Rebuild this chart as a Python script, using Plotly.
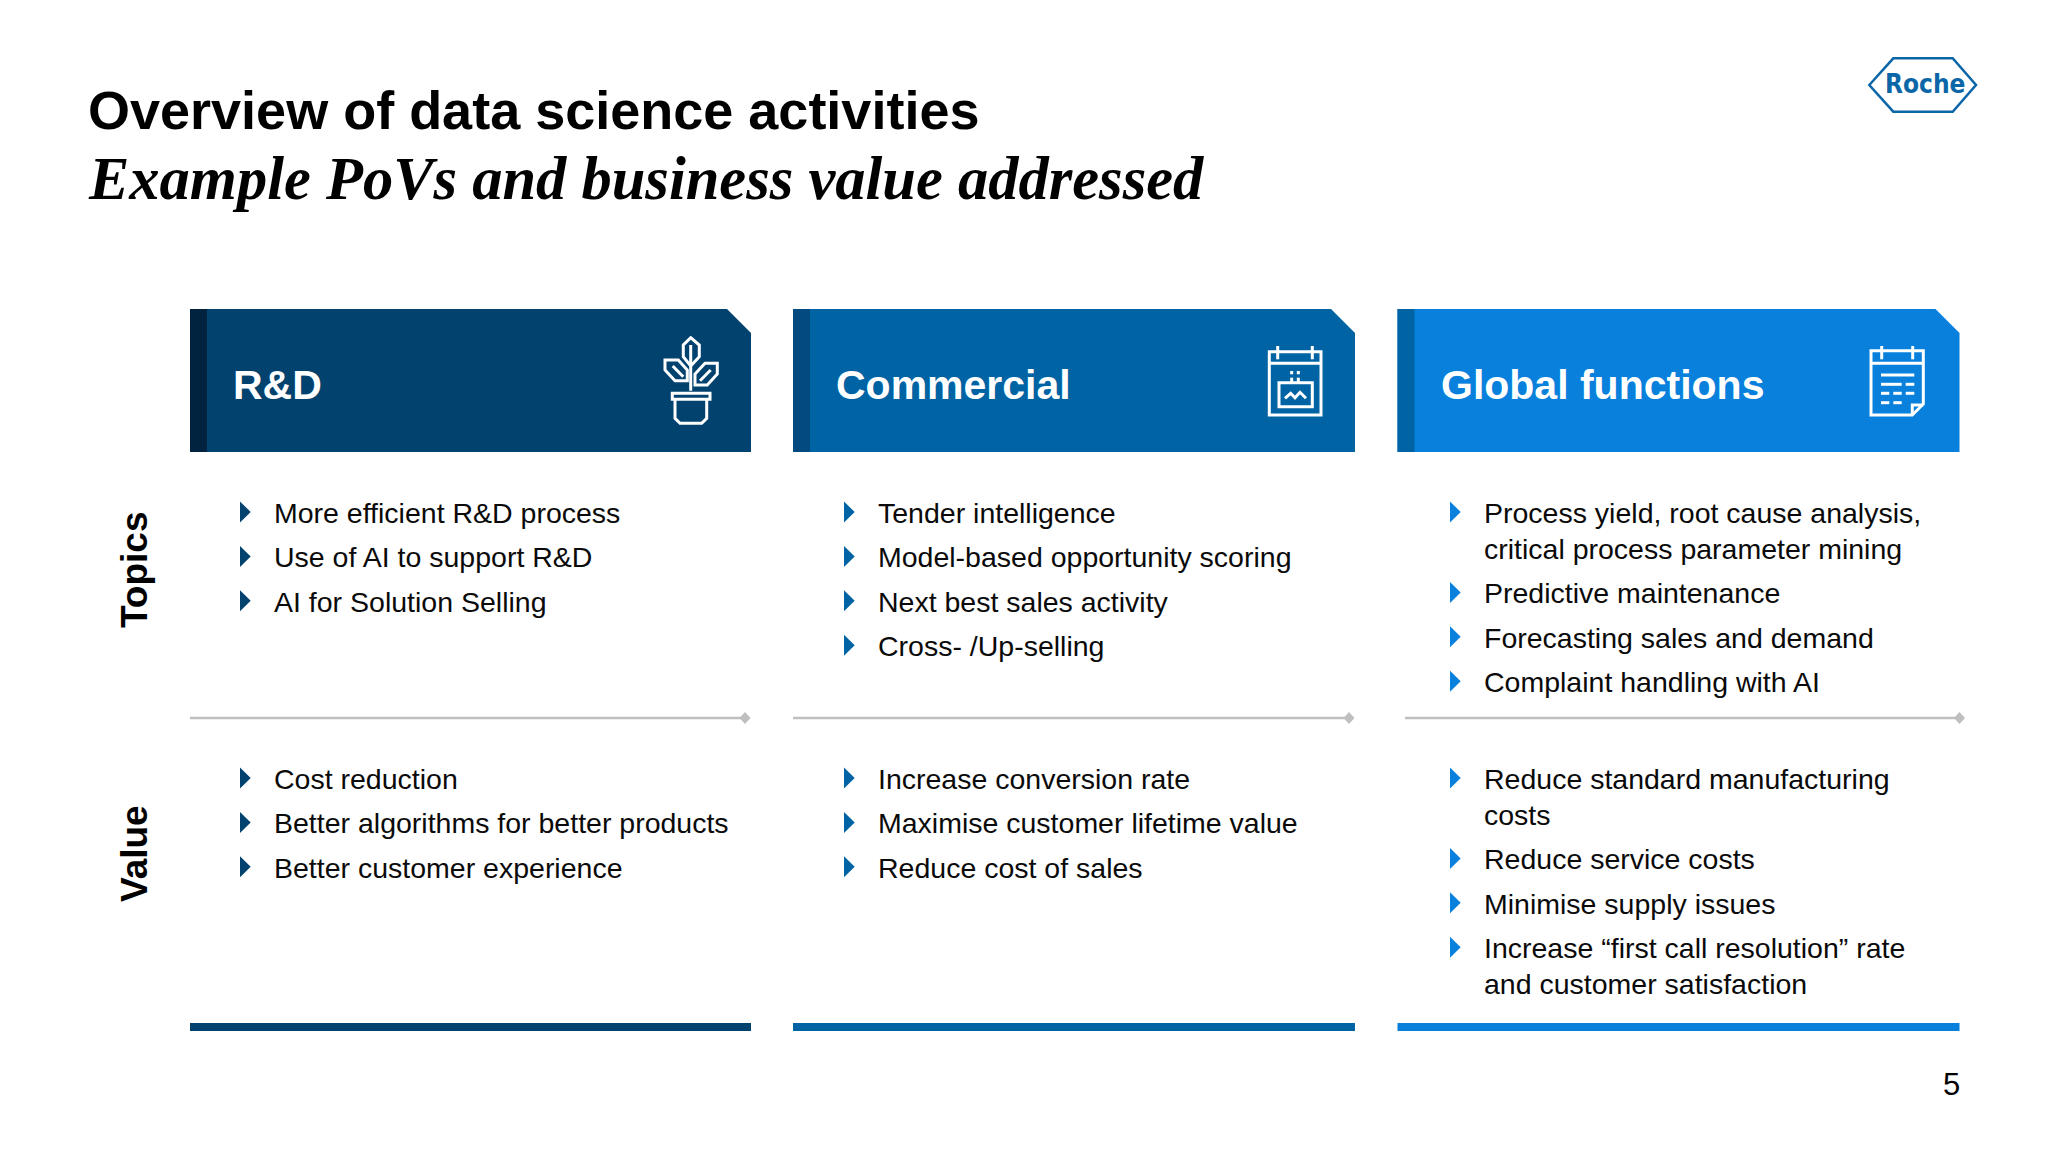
import plotly.graph_objects as go

title = "Overview of data science activities"
subtitle = "Example PoVs and business value addressed"
row_labels = ["Topics", "Value"]
headers = ["R&D", "Commercial", "Global functions"]
topics = [
    [["More efficient R&D process"], ["Use of AI to support R&D"], ["AI for Solution Selling"]],
    [["Tender intelligence"], ["Model-based opportunity scoring"], ["Next best sales activity"], ["Cross- /Up-selling"]],
    [["Process yield, root cause analysis,", "critical process parameter mining"], ["Predictive maintenance"],
     ["Forecasting sales and demand"], ["Complaint handling with AI"]],
]
values = [
    [["Cost reduction"], ["Better algorithms for better products"], ["Better customer experience"]],
    [["Increase conversion rate"], ["Maximise customer lifetime value"], ["Reduce cost of sales"]],
    [["Reduce standard manufacturing", "costs"], ["Reduce service costs"], ["Minimise supply issues"],
     ["Increase \u201cfirst call resolution\u201d rate", "and customer satisfaction"]],
]
page_number = "5"
logo_text = "Roche"

FILL = ["#02426E", "#0063A4", "#0880DC"]
STRIPE = ["#02233F", "#024A80", "#0063A4"]
BULLET = ["#02426E", "#0063A4", "#0880DC"]
GREY = "#C0BFC0"
X0 = [190, 793, 1397.5]
X1 = [751, 1355, 1959.5]
LINE0 = [190, 793, 1405]
LINE1 = [745, 1349, 1959.5]
TXT_X = [271.5, 876, 1482]
BUL_X = [240, 844, 1450]
FONT = "Liberation Sans"

shapes, ann = [], []


def text(x, y, s, size, color="#000000", family=FONT, anchor="left", angle=0, bold=False, italic=False):
    ann.append(dict(x=x, y=y, xref="x", yref="y", text=s, showarrow=False, xanchor=anchor, yanchor="middle",
                    textangle=angle, font=dict(size=size, color=color, family=family,
                                               weight="bold" if bold else "normal",
                                               style="italic" if italic else "normal")))


def poly(pts, fill=None, line=None, w=0, close=True):
    d = "M" + " L".join(f"{a:.1f},{b:.1f}" for a, b in pts) + (" Z" if close else "")
    shapes.append(dict(type="path", path=d, xref="x", yref="y", fillcolor=fill or "rgba(0,0,0,0)",
                       line=dict(color=line or "rgba(0,0,0,0)", width=w)))


def icon(ox, oy, polys, w=3):
    for p, close in polys:
        poly([(ox + a / 3, oy + b / 3) for a, b in p], line="#FFFFFF", w=w, close=close)


text(86, 110, title, 54, bold=True)
text(85.5, 178, subtitle, 60.5, family="Liberation Serif", bold=True, italic=True)
text(134, 570, row_labels[0], 37, angle=-90, anchor="center", bold=True)
text(134, 854, row_labels[1], 37, angle=-90, anchor="center", bold=True)
text(1962, 1084, page_number, 31, anchor="right")

for i in range(3):
    x0, x1 = X0[i], X1[i]
    poly([(x0, 309), (x1 - 24, 309), (x1, 333), (x1, 452), (x0, 452)], fill=FILL[i])
    poly([(x0, 309), (x0 + 17, 309), (x0 + 17, 452), (x0, 452)], fill=STRIPE[i])
    text(x0 + 41, 385, headers[i], 41, color="#FFFFFF", bold=True)
    poly([(x0, 1023), (x1, 1023), (x1, 1031), (x0, 1031)], fill=FILL[i])
    lx = LINE1[i]
    poly([(LINE0[i], 718), (lx, 718)], line=GREY, w=2.3, close=False)
    poly([(lx, 712), (lx + 5.5, 718), (lx, 724), (lx - 5.5, 718)], fill=GREY)
    for items, y0 in ((topics[i], 512), (values[i], 778)):
        y = y0
        for lines in items:
            bx = BUL_X[i]
            poly([(bx, y - 10.5), (bx + 10.7, y), (bx, y + 10.5)], fill=BULLET[i])
            for j, line in enumerate(lines):
                text(TXT_X[i], y + 36 * j + 1, line, 28.5, color="#0A0A0A")
            y += 44.4 + 36 * (len(lines) - 1)

# R&D plant
icon(600, 300, [
    ([(272, 113), (298, 135), (298, 170), (272, 198), (250, 170), (250, 135)], True),
    ([(272, 135), (272, 272)], False),
    ([(195, 180), (235, 180), (262, 210), (262, 242), (225, 242), (195, 210)], True),
    ([(218, 198), (250, 230)], False),
    ([(352, 190), (352, 222), (322, 255), (285, 255), (285, 222), (315, 190)], True),
    ([(332, 210), (300, 242)], False),
    ([(217, 280), (330, 280), (330, 298), (217, 298)], True),
    ([(225, 298), (225, 355), (240, 370), (305, 370), (320, 355), (320, 298)], False),
])
# Commercial calendar
icon(1250, 330, [
    ([(58, 65), (213, 65), (213, 255), (58, 255)], True),
    ([(58, 100), (213, 100)], False),
    ([(83, 48), (83, 88)], False),
    ([(187, 48), (187, 88)], False),
    ([(87, 158), (187, 158), (187, 230), (87, 230)], True),
    ([(105, 205), (122, 190), (135, 203), (150, 187), (168, 205)], False),
    ([(125, 123), (125, 133)], False),
    ([(145, 123), (145, 133)], False),
    ([(125, 143), (125, 156)], False),
    ([(145, 143), (145, 156)], False),
])
# Global document
icon(1855, 330, [
    ([(48, 62), (205, 62), (205, 222), (172, 255), (48, 255)], True),
    ([(172, 255), (172, 225), (205, 225)], False),
    ([(48, 100), (205, 100)], False),
    ([(80, 48), (80, 88)], False),
    ([(173, 48), (173, 88)], False),
    ([(78, 135), (178, 135)], False),
    ([(78, 163), (140, 163)], False),
    ([(152, 163), (178, 163)], False),
    ([(78, 190), (103, 190)], False),
    ([(115, 190), (140, 190)], False),
    ([(152, 190), (178, 190)], False),
    ([(78, 218), (103, 218)], False),
    ([(115, 218), (140, 218)], False),
])
# Logo
poly([(1860 + a / 3, 40 + b / 3) for a, b in
      [(28, 135), (100, 55), (278, 55), (348, 135), (278, 215), (100, 215)]], line="#0B66A8", w=2.5)
text(1925, 84, logo_text, 26, color="#0B66A8", family="DejaVu Sans Condensed, Liberation Sans", anchor="center", bold=True)

fig = go.Figure()
fig.update_layout(
    width=2048, height=1152, margin=dict(l=0, r=0, t=0, b=0), autosize=False,
    paper_bgcolor="#FFFFFF", plot_bgcolor="#FFFFFF", showlegend=False,
    xaxis=dict(range=[0, 2048], visible=False, fixedrange=True),
    yaxis=dict(range=[1152, 0], visible=False, fixedrange=True),
    shapes=shapes, annotations=ann,
)
fig.write_html("out.html", config={"displayModeBar": False}, post_script="document.body.style.margin='0';")
